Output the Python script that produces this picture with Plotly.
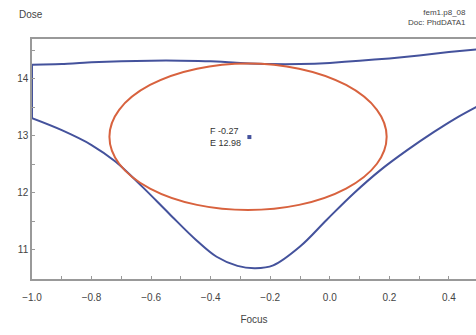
import plotly.graph_objects as go

# Process-window boundary (upper and lower edges)
upper_focus = [-1.0, -0.9, -0.8, -0.7, -0.6, -0.5, -0.4, -0.3, -0.2, -0.1, 0.0, 0.1, 0.2, 0.3, 0.4, 0.5]
upper_dose = [14.25, 14.26, 14.29, 14.31, 14.32, 14.32, 14.31, 14.28, 14.26, 14.26, 14.28, 14.32, 14.36, 14.41, 14.47, 14.52]

lower_focus = [-1.0, -0.9, -0.8, -0.72, -0.63, -0.54, -0.45, -0.38, -0.31, -0.25, -0.19, -0.10, -0.01, 0.08, 0.17, 0.26, 0.35, 0.42, 0.5]
lower_dose = [13.31, 13.10, 12.84, 12.55, 12.11, 11.64, 11.18, 10.88, 10.72, 10.68, 10.73, 11.06, 11.53, 11.99, 12.40, 12.75, 13.07, 13.30, 13.53]

# Fitted ellipse (bounding box) and centre point
ellipse_focus = [-0.740, 0.191]
ellipse_dose = [11.70, 14.27]
center_focus = [-0.27]
center_dose = [12.98]
center_text = "F -0.27<br>E 12.98"

blue = "#44529c"
orange = "#d8623e"
grey = "#999999"
font = "Liberation Sans, Arial, sans-serif"

fig = go.Figure()

fig.add_trace(go.Scatter(x=upper_focus, y=upper_dose, mode="lines",
                         line=dict(color=blue, width=2, shape="spline", smoothing=0.5),
                         hoverinfo="skip"))
fig.add_trace(go.Scatter(x=lower_focus, y=lower_dose, mode="lines",
                         line=dict(color=blue, width=2, shape="spline", smoothing=1.0),
                         hoverinfo="skip"))
# left clipped edge joining the two boundaries
fig.add_trace(go.Scatter(x=[upper_focus[0], lower_focus[0]], y=[upper_dose[0], lower_dose[0]],
                         mode="lines", line=dict(color=blue, width=2), hoverinfo="skip"))

fig.add_shape(type="circle", xref="x", yref="y",
              x0=ellipse_focus[0], x1=ellipse_focus[1],
              y0=ellipse_dose[0], y1=ellipse_dose[1],
              line=dict(color=orange, width=2))

fig.add_trace(go.Scatter(x=center_focus, y=center_dose, mode="markers",
                         marker=dict(color=blue, size=4, symbol="square")))

fig.add_annotation(x=center_focus[0], y=center_dose[0], xref="x", yref="y",
                   text=center_text, showarrow=False, xanchor="right", yanchor="middle",
                   xshift=-6, align="left",
                   font=dict(family=font, size=9, color="#333333"))

fig.add_annotation(x=0.0, y=1.0, xref="paper", yref="paper", xshift=-15, yshift=17,
                   text="Dose", showarrow=False, xanchor="left", yanchor="bottom",
                   font=dict(family=font, size=10, color="#444444"))
fig.add_annotation(x=1.0, y=1.0, xref="paper", yref="paper", xshift=-8, yshift=10,
                   text="fem1.p8_08<br>Doc: PhdDATA1", showarrow=False,
                   xanchor="right", yanchor="bottom", align="right",
                   font=dict(family=font, size=8, color="#444444"))

fig.update_layout(
    width=476, height=335,
    margin=dict(l=32, r=0, t=39, b=56),
    paper_bgcolor="white", plot_bgcolor="white",
    showlegend=False,
    font=dict(family=font, size=10, color="#444444"),
    xaxis=dict(range=[-1.0, 0.491], dtick=0.2, tick0=-1.0, tickformat=".1f",
               showgrid=False, zeroline=False, showline=True, linecolor=grey, linewidth=1.5,
               mirror=True, ticks="inside", ticklen=3, tickcolor=grey, ticklabelstandoff=8,
               minor=dict(dtick=0.1, ticks="inside", ticklen=3, tickcolor=grey),
               title=dict(text="Focus", font=dict(size=10), standoff=14)),
    yaxis=dict(range=[10.49, 14.70], dtick=1, tick0=11,
               showgrid=False, zeroline=False, showline=True, linecolor=grey, linewidth=1.5,
               ticks="inside", ticklen=3, tickcolor=grey,
               minor=dict(dtick=0.5, ticks="inside", ticklen=3, tickcolor=grey)),
)

fig.write_html("out.html")
